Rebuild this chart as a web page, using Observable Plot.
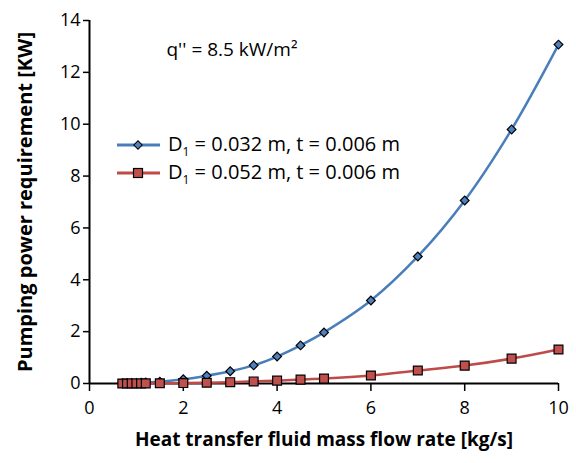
<!DOCTYPE html>
<html>
<head>
<meta charset="utf-8">
<script src="https://cdn.jsdelivr.net/npm/d3@7"></script>
<script src="https://cdn.jsdelivr.net/npm/@observablehq/plot@0.6"></script>
<style>
  body { margin: 0; background: #fff; }
  #wrap { position: relative; width: 576px; height: 463px; font-family: "Open Sans", sans-serif; }
  #legend { position: absolute; left: 117px; top: 131px; font-size: 20px; color: #000; }
  #legend .row { display: flex; align-items: center; height: 28px; }
  #legend svg { margin-right: 8px; }
</style>
</head>
<body>
<div id="wrap"></div>
<script>
const flowRate = [0.7, 0.8, 0.9, 1.0, 1.1, 1.2, 1.5, 2, 2.5, 3, 3.5, 4, 4.5, 5, 6, 7, 8, 9, 10];
const powerD032 = [0.008, 0.012, 0.017, 0.023, 0.03, 0.038, 0.07, 0.16, 0.30, 0.47, 0.70, 1.04, 1.47, 1.97, 3.20, 4.90, 7.06, 9.80, 13.07];
const powerD052 = [0.001, 0.001, 0.002, 0.002, 0.003, 0.004, 0.008, 0.017, 0.03, 0.05, 0.08, 0.11, 0.15, 0.19, 0.31, 0.50, 0.69, 0.96, 1.31];
const seriesNames = ["D₁ = 0.032 m, t = 0.006 m", "D₁ = 0.052 m, t = 0.006 m"];
const xTicks = [0, 2, 4, 6, 8, 10];
const yTicks = [0, 2, 4, 6, 8, 10, 12, 14];

const blue = flowRate.map((x, i) => ({x, y: powerD032[i]}));
const red = flowRate.map((x, i) => ({x, y: powerD052[i]}));

const font = "'Open Sans', sans-serif";

const chart = Plot.plot({
  width: 576,
  height: 463,
  marginLeft: 89,
  marginRight: 18,
  marginTop: 20,
  marginBottom: 80,
  style: {fontFamily: font, fontSize: "18px", color: "#000", background: "#fff"},
  x: {domain: [0, 10]},
  y: {domain: [0, 14]},
  marks: [
    Plot.axisX({ticks: xTicks, tickSize: 8, tickPadding: 10, fontSize: 18, label: null, strokeWidth: 1.5}),
    Plot.axisY({ticks: yTicks, tickSize: 6, tickPadding: 3, fontSize: 18, label: null, strokeWidth: 1.5}),
    Plot.ruleX([0], {stroke: "#000", strokeWidth: 2}),
    Plot.ruleY([0], {stroke: "#000", strokeWidth: 2}),
    Plot.line(blue, {x: "x", y: "y", stroke: "#4A7EBB", strokeWidth: 2.5, curve: "catmull-rom"}),
    Plot.line(red, {x: "x", y: "y", stroke: "#BE4B48", strokeWidth: 2.5, curve: "catmull-rom"}),
    Plot.dot(blue, {x: "x", y: "y", symbol: "square", rotate: 45, r: 3.5, fill: "#4F81BD", stroke: "#000", strokeWidth: 1.2}),
    Plot.dot(red, {x: "x", y: "y", symbol: "square", r: 5, fill: "#C0504D", stroke: "#000", strokeWidth: 1.2}),
    Plot.text(["q'' = 8.5 kW/m²"], {frameAnchor: "top-left", dx: 77, dy: 22, text: d => d, fontSize: 19, textAnchor: "start", fill: "#000"}),
    Plot.text(["Pumping power requirement [KW]"], {frameAnchor: "left", dx: -64, rotate: -90, textAnchor: "middle", text: d => d, fontSize: 20, fontWeight: "bold", fill: "#000"}),
    Plot.text(["Heat transfer fluid mass flow rate [kg/s]"], {frameAnchor: "bottom", dy: 62, textAnchor: "middle", text: d => d, fontSize: 19, fontWeight: "bold", fill: "#000"})
  ]
});

const wrap = document.getElementById("wrap");
wrap.appendChild(chart);

const legend = document.createElement("div");
legend.id = "legend";
const sw = [
  {stroke: "#4A7EBB", fill: "#4F81BD", shape: "diamond"},
  {stroke: "#BE4B48", fill: "#C0504D", shape: "square"}
];
seriesNames.forEach((name, i) => {
  const row = document.createElement("div");
  row.className = "row";
  const s = sw[i];
  const marker = s.shape === "diamond"
    ? `<rect x="18" y="6" width="6" height="6" transform="rotate(45 21 9)" fill="${s.fill}" stroke="#000" stroke-width="1"/>`
    : `<rect x="16.5" y="4.5" width="9" height="9" fill="${s.fill}" stroke="#000" stroke-width="1.2"/>`;
  row.innerHTML = `<svg width="43" height="18"><line x1="0" x2="43" y1="9" y2="9" stroke="${s.stroke}" stroke-width="3"/>${marker}</svg><span>${name.replace("₁", "<sub style='font-size:12px'>1</sub>")}</span>`;
  legend.appendChild(row);
});
wrap.appendChild(legend);
</script>
</body>
</html>
